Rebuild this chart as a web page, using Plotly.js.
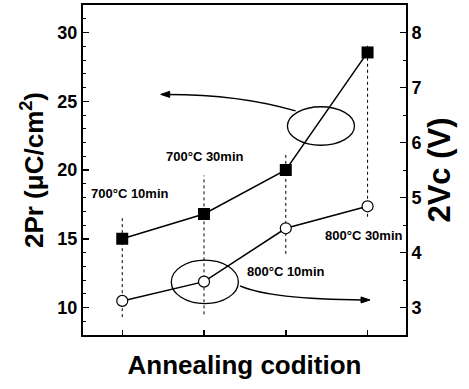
<!DOCTYPE html>
<html>
<head>
<meta charset="utf-8">
<script src="https://cdn.plot.ly/plotly-3.0.1.min.js"></script>
<style>html,body{margin:0;padding:0;background:#fff;}#chart{width:469px;height:389px;}</style>
</head>
<body>
<div id="chart"></div>
<script>
// Data
const conditions = ["700°C 10min", "700°C 30min", "800°C 10min", "800°C 30min"];
const conditionIndex = [0, 1, 2, 3];
const pr2 = [15.0, 16.8, 20.0, 28.55];      // 2Pr (µC/cm²), left axis
const vc2 = [3.12, 3.47, 4.44, 4.84];       // 2Vc (V), right axis
// dashed guide extents (left-axis units)
const guideLow = [9.3, 9.5, 13.9, 16.6];
const guideHigh = [16.7, 19.6, 21.1, 29.2];
const leftTicks = [10, 15, 20, 25, 30];
const rightTicks = [3, 4, 5, 6, 7, 8];

const font = "Liberation Sans, Arial, sans-serif";
const traces = [];
conditionIndex.forEach((c, i) => {
  traces.push({
    x: [c, c], y: [guideLow[i], guideHigh[i]], mode: "lines",
    line: {color: "#000", width: 1, dash: "3px,3px"}, showlegend: false, hoverinfo: "skip"
  });
});
traces.push({
  x: conditionIndex, y: pr2, mode: "lines+markers", name: "2Pr",
  text: conditions,
  line: {color: "#000", width: 1.5},
  marker: {symbol: "square", size: 12, color: "#000"}
});
traces.push({
  x: conditionIndex, y: vc2, yaxis: "y2", mode: "lines+markers", name: "2Vc",
  text: conditions,
  line: {color: "#000", width: 1.5},
  marker: {symbol: "circle", size: 11, color: "#fff", line: {color: "#000", width: 1.2}}
});

const labelFont = {family: font, size: 13, color: "#000", weight: "bold"};
const annotations = [
  {x: 0.10, y: 18.3, text: "<b>" + conditions[0] + "</b>"},
  {x: 1.01, y: 21.0, text: "<b>" + conditions[1] + "</b>"},
  {x: 2.00, y: 12.6, text: "<b>" + conditions[2] + "</b>"},
  {x: 2.96, y: 15.25, text: "<b>" + conditions[3] + "</b>"}
].map(a => Object.assign({xref: "x", yref: "y", showarrow: false, font: labelFont}, a));

const shapes = [
  {type: "circle", xref: "x", yref: "y", x0: 2.02, x1: 2.84, y0: 21.8, y1: 24.6, line: {color: "#000", width: 1.3}},
  {type: "circle", xref: "x", yref: "y", x0: 0.60, x1: 1.42, y0: 10.28, y1: 13.44, line: {color: "#000", width: 1.3}},
  {type: "path", xref: "x", yref: "y", path: "M 2.12 24.3 Q 1.44 25.5 0.55 25.5", line: {color: "#000", width: 1.5}},
  {type: "path", xref: "x", yref: "y", path: "M 1.44 11.57 Q 1.81 10.6 2.95 10.55", line: {color: "#000", width: 1.5}},
  // arrowheads
  {type: "path", xref: "x", yref: "y", path: "M 0.47 25.5 L 0.58 25.72 L 0.58 25.28 Z", fillcolor: "#000", line: {color: "#000", width: 1}},
  {type: "path", xref: "x", yref: "y", path: "M 3.03 10.55 L 2.92 10.77 L 2.92 10.33 Z", fillcolor: "#000", line: {color: "#000", width: 1}}
];

const layout = {
  width: 469, height: 389,
  margin: {l: 83, r: 63, t: 5, b: 54},
  paper_bgcolor: "#fff", plot_bgcolor: "#fff",
  showlegend: false,
  font: {family: font, color: "#000"},
  xaxis: {
    range: [-0.48, 3.47], tickvals: conditionIndex, showticklabels: false,
    ticks: "inside", ticklen: 5, tickwidth: 1.5, tickcolor: "#000",
    showline: true, linewidth: 2, linecolor: "#000", mirror: true,
    showgrid: false, zeroline: false,
    title: {text: "<b>Annealing codition</b>", font: {family: font, size: 26, color: "#000"}, standoff: 20}
  },
  yaxis: {
    range: [8, 32], tickvals: leftTicks,
    ticks: "inside", ticklen: 6, tickwidth: 1.5, tickcolor: "#000",
    minor: {dtick: 1, ticks: "inside", ticklen: 3, tickcolor: "#000", tickwidth: 1},
    showline: true, linewidth: 2, linecolor: "#000",
    showgrid: false, zeroline: false,
    tickfont: {family: font, size: 18, color: "#000", weight: "bold"},
    title: {text: "<b>2Pr (μC/cm<sup>2</sup>)</b>", font: {family: font, size: 26, color: "#000"}, standoff: 6}
  },
  yaxis2: {
    overlaying: "y", side: "right",
    range: [2.5, 8.5], tickvals: rightTicks,
    ticks: "inside", ticklen: 6, tickwidth: 1.5, tickcolor: "#000",
    minor: {dtick: 0.5, ticks: "inside", ticklen: 3, tickcolor: "#000", tickwidth: 1},
    showline: true, linewidth: 2, linecolor: "#000",
    showgrid: false, zeroline: false,
    tickfont: {family: font, size: 18, color: "#000", weight: "bold"},
    title: {text: "<b>2Vc (V)</b>", font: {family: font, size: 31, color: "#000"}, standoff: 6}
  },
  annotations: annotations,
  shapes: shapes
};

Plotly.newPlot("chart", traces, layout, {staticPlot: true, displayModeBar: false});
</script>
</body>
</html>
